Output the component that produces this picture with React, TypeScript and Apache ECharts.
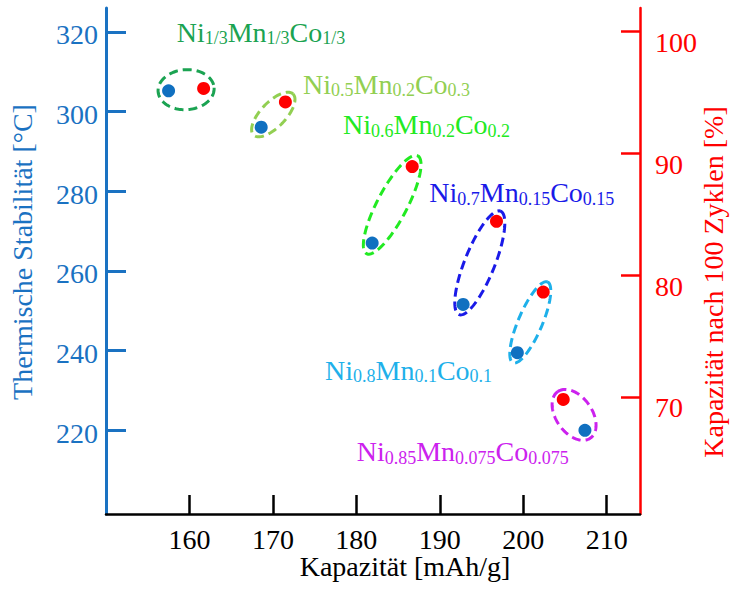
import React, { useEffect, useRef } from "react";
import * as echarts from "echarts";

// ---- data ----
const xTicks = [160, 170, 180, 190, 200, 210];
const leftTicks = [220, 240, 260, 280, 300, 320];
const rightTicks = [70, 80, 90, 100];

const niSub = ["1/3", "0.5", "0.6", "0.7", "0.8", "0.85"];
const mnSub = ["1/3", "0.2", "0.2", "0.15", "0.1", "0.075"];
const coSub = ["1/3", "0.3", "0.2", "0.15", "0.1", "0.075"];

// blue points: capacity vs thermal stability (left axis)
const capacityThermal = [157.5, 168.6, 181.9, 192.8, 199.3, 207.4];
const thermalStability = [305.2, 296.1, 267.0, 251.6, 239.5, 220.0];
// red points: capacity vs capacity retention after 100 cycles (right axis)
const capacityRetention = [161.7, 171.5, 186.7, 196.8, 202.4, 204.8];
const retention = [95.3, 94.2, 88.9, 84.4, 78.6, 69.8];

// ---- axis ranges ----
const X_MIN = 150;
const X_MAX = 214;
const L_MIN = 199;
const L_MAX = 326;
const R_MIN = 60.4;
const R_MAX = 101.9;

// ---- styles ----
const FONT = "Liberation Serif";
const BLUE_AXIS = "#1a72c2";
const BLUE_DOT = "#1070c0";
const RED = "#ff0000";
const groupColors = ["#1ba352", "#92cf52", "#22ea22", "#1a1ae8", "#1eb0ea", "#cc22ee"];
const labelPos = [
  [176.7, 32.4],
  [303, 84],
  [343, 124.5],
  [429.3, 192.5],
  [325, 370.3],
  [356.7, 451.8],
];
const ellipsePad = [10.5, 11, 12, 11, 11, 9.5];
const ellipseMinor = [20, 12.5, 15, 15, 12, 18];

const toLeft = (r: number) => L_MIN + ((r - R_MIN) * (L_MAX - L_MIN)) / (R_MAX - R_MIN);

export default function App() {
  const ref = useRef<HTMLDivElement>(null);

  useEffect(() => {
    if (!ref.current) return;
    const chart = echarts.init(ref.current, undefined, { renderer: "svg" });

    const rich = (color: string) => ({
      m: { fontSize: 28, fontFamily: FONT, color, fill: color, lineHeight: 30 },
      s: { fontSize: 18, fontFamily: FONT, color, fill: color, lineHeight: 12, verticalAlign: "bottom" },
    });

    const labels = niSub.map((_, i) => ({
      type: "text",
      x: labelPos[i][0],
      y: labelPos[i][1],
      silent: true,
      style: {
        text: `{m|Ni}{s|${niSub[i]}}{m|Mn}{s|${mnSub[i]}}{m|Co}{s|${coSub[i]}}`,
        rich: rich(groupColors[i]),
        fill: groupColors[i],
        fontFamily: FONT,
        align: "left",
        verticalAlign: "middle",
        textAlign: "left",
        textVerticalAlign: "middle",
      },
    }));

    const titleStyle = (text: string, color: string) => ({
      text,
      fill: color,
      fontSize: 28,
      lineHeight: 26,
      fontFamily: FONT,
      align: "center",
      verticalAlign: "middle",
      textAlign: "center",
      textVerticalAlign: "middle",
    });

    chart.setOption({
      animation: false,
      backgroundColor: "#ffffff",
      textStyle: { fontFamily: FONT },
      grid: { left: 106, right: 106, top: 8, bottom: 78, containLabel: false },
      xAxis: {
        type: "value",
        min: X_MIN,
        max: X_MAX,
        axisLine: { show: true, lineStyle: { color: "#000", width: 2.5 } },
        axisTick: {
          show: true,
          inside: true,
          length: 19,
          lineStyle: { color: "#000", width: 2.5 },
          customValues: xTicks,
        },
        axisLabel: {
          customValues: xTicks,
          fontSize: 28,
          lineHeight: 26,
          color: "#000",
          margin: 12,
          fontFamily: FONT,
        },
        splitLine: { show: false },
      },
      yAxis: [
        {
          type: "value",
          position: "left",
          min: L_MIN,
          max: L_MAX,
          axisLine: { show: true, lineStyle: { color: BLUE_AXIS, width: 3 } },
          axisTick: {
            show: true,
            inside: true,
            length: 20,
            lineStyle: { color: BLUE_AXIS, width: 3 },
            customValues: leftTicks,
          },
          axisLabel: {
            customValues: leftTicks,
            fontSize: 28,
            lineHeight: 6,
            verticalAlign: "top",
            color: BLUE_AXIS,
            margin: 8,
            fontFamily: FONT,
          },
          splitLine: { show: false },
        },
        {
          type: "value",
          position: "right",
          min: R_MIN,
          max: R_MAX,
          axisLine: { show: true, lineStyle: { color: RED, width: 2.5 } },
          axisTick: {
            show: true,
            inside: true,
            length: 19,
            lineStyle: { color: RED, width: 2.5 },
            customValues: rightTicks,
          },
          axisLabel: {
            customValues: rightTicks,
            fontSize: 28,
            lineHeight: 22,
            verticalAlign: "top",
            color: RED,
            margin: 15,
            fontFamily: FONT,
          },
          splitLine: { show: false },
        },
      ],
      graphic: [
        ...labels,
        {
          type: "text",
          x: 22,
          y: 252,
          rotation: Math.PI / 2,
          silent: true,
          style: titleStyle("Thermische Stabilität [°C]", BLUE_AXIS),
        },
        {
          type: "text",
          x: 713,
          y: 282,
          rotation: Math.PI / 2,
          silent: true,
          style: titleStyle("Kapazität nach 100 Zyklen [%]", RED),
        },
        {
          type: "text",
          x: 405,
          y: 566,
          silent: true,
          style: titleStyle("Kapazität [mAh/g]", "#000"),
        },
      ],
      series: [
        {
          type: "custom",
          xAxisIndex: 0,
          yAxisIndex: 0,
          clip: false,
          silent: true,
          z: 1,
          data: capacityThermal.map((x, i) => [
            x,
            thermalStability[i],
            capacityRetention[i],
            toLeft(retention[i]),
          ]),
          renderItem: (params: any, api: any) => {
            const i = params.dataIndex;
            const p1 = api.coord([api.value(0), api.value(1)]);
            const p2 = api.coord([api.value(2), api.value(3)]);
            const cx = (p1[0] + p2[0]) / 2;
            const cy = (p1[1] + p2[1]) / 2;
            const dx = p2[0] - p1[0];
            const dy = p2[1] - p1[1];
            const a = Math.hypot(dx, dy) / 2 + ellipsePad[i];
            const b = ellipseMinor[i];
            const th = Math.atan2(dy, dx);
            const pts: number[][] = [];
            const n = 120;
            for (let k = 0; k <= n; k++) {
              const t = (k / n) * 2 * Math.PI;
              const ex = a * Math.cos(t);
              const ey = b * Math.sin(t);
              pts.push([
                cx + ex * Math.cos(th) - ey * Math.sin(th),
                cy + ex * Math.sin(th) + ey * Math.cos(th),
              ]);
            }
            return {
              type: "polyline",
              shape: { points: pts },
              style: {
                fill: "none",
                stroke: groupColors[i],
                lineWidth: 3,
                lineDash: [9, 5],
              },
            };
          },
        },
        {
          type: "scatter",
          xAxisIndex: 0,
          yAxisIndex: 0,
          symbol: "circle",
          symbolSize: 13,
          z: 3,
          itemStyle: { color: BLUE_DOT, opacity: 1 },
          data: capacityThermal.map((x, i) => [x, thermalStability[i]]),
        },
        {
          type: "scatter",
          xAxisIndex: 0,
          yAxisIndex: 1,
          symbol: "circle",
          symbolSize: 13,
          z: 3,
          itemStyle: { color: RED, opacity: 1 },
          data: capacityRetention.map((x, i) => [x, retention[i]]),
        },
      ],
    });

    return () => {
      chart.dispose();
    };
  }, []);

  return (
    <div
      ref={ref}
      style={{
        position: "fixed",
        left: 0,
        top: 0,
        width: 746,
        height: 592,
        background: "#fff",
      }}
    />
  );
}
